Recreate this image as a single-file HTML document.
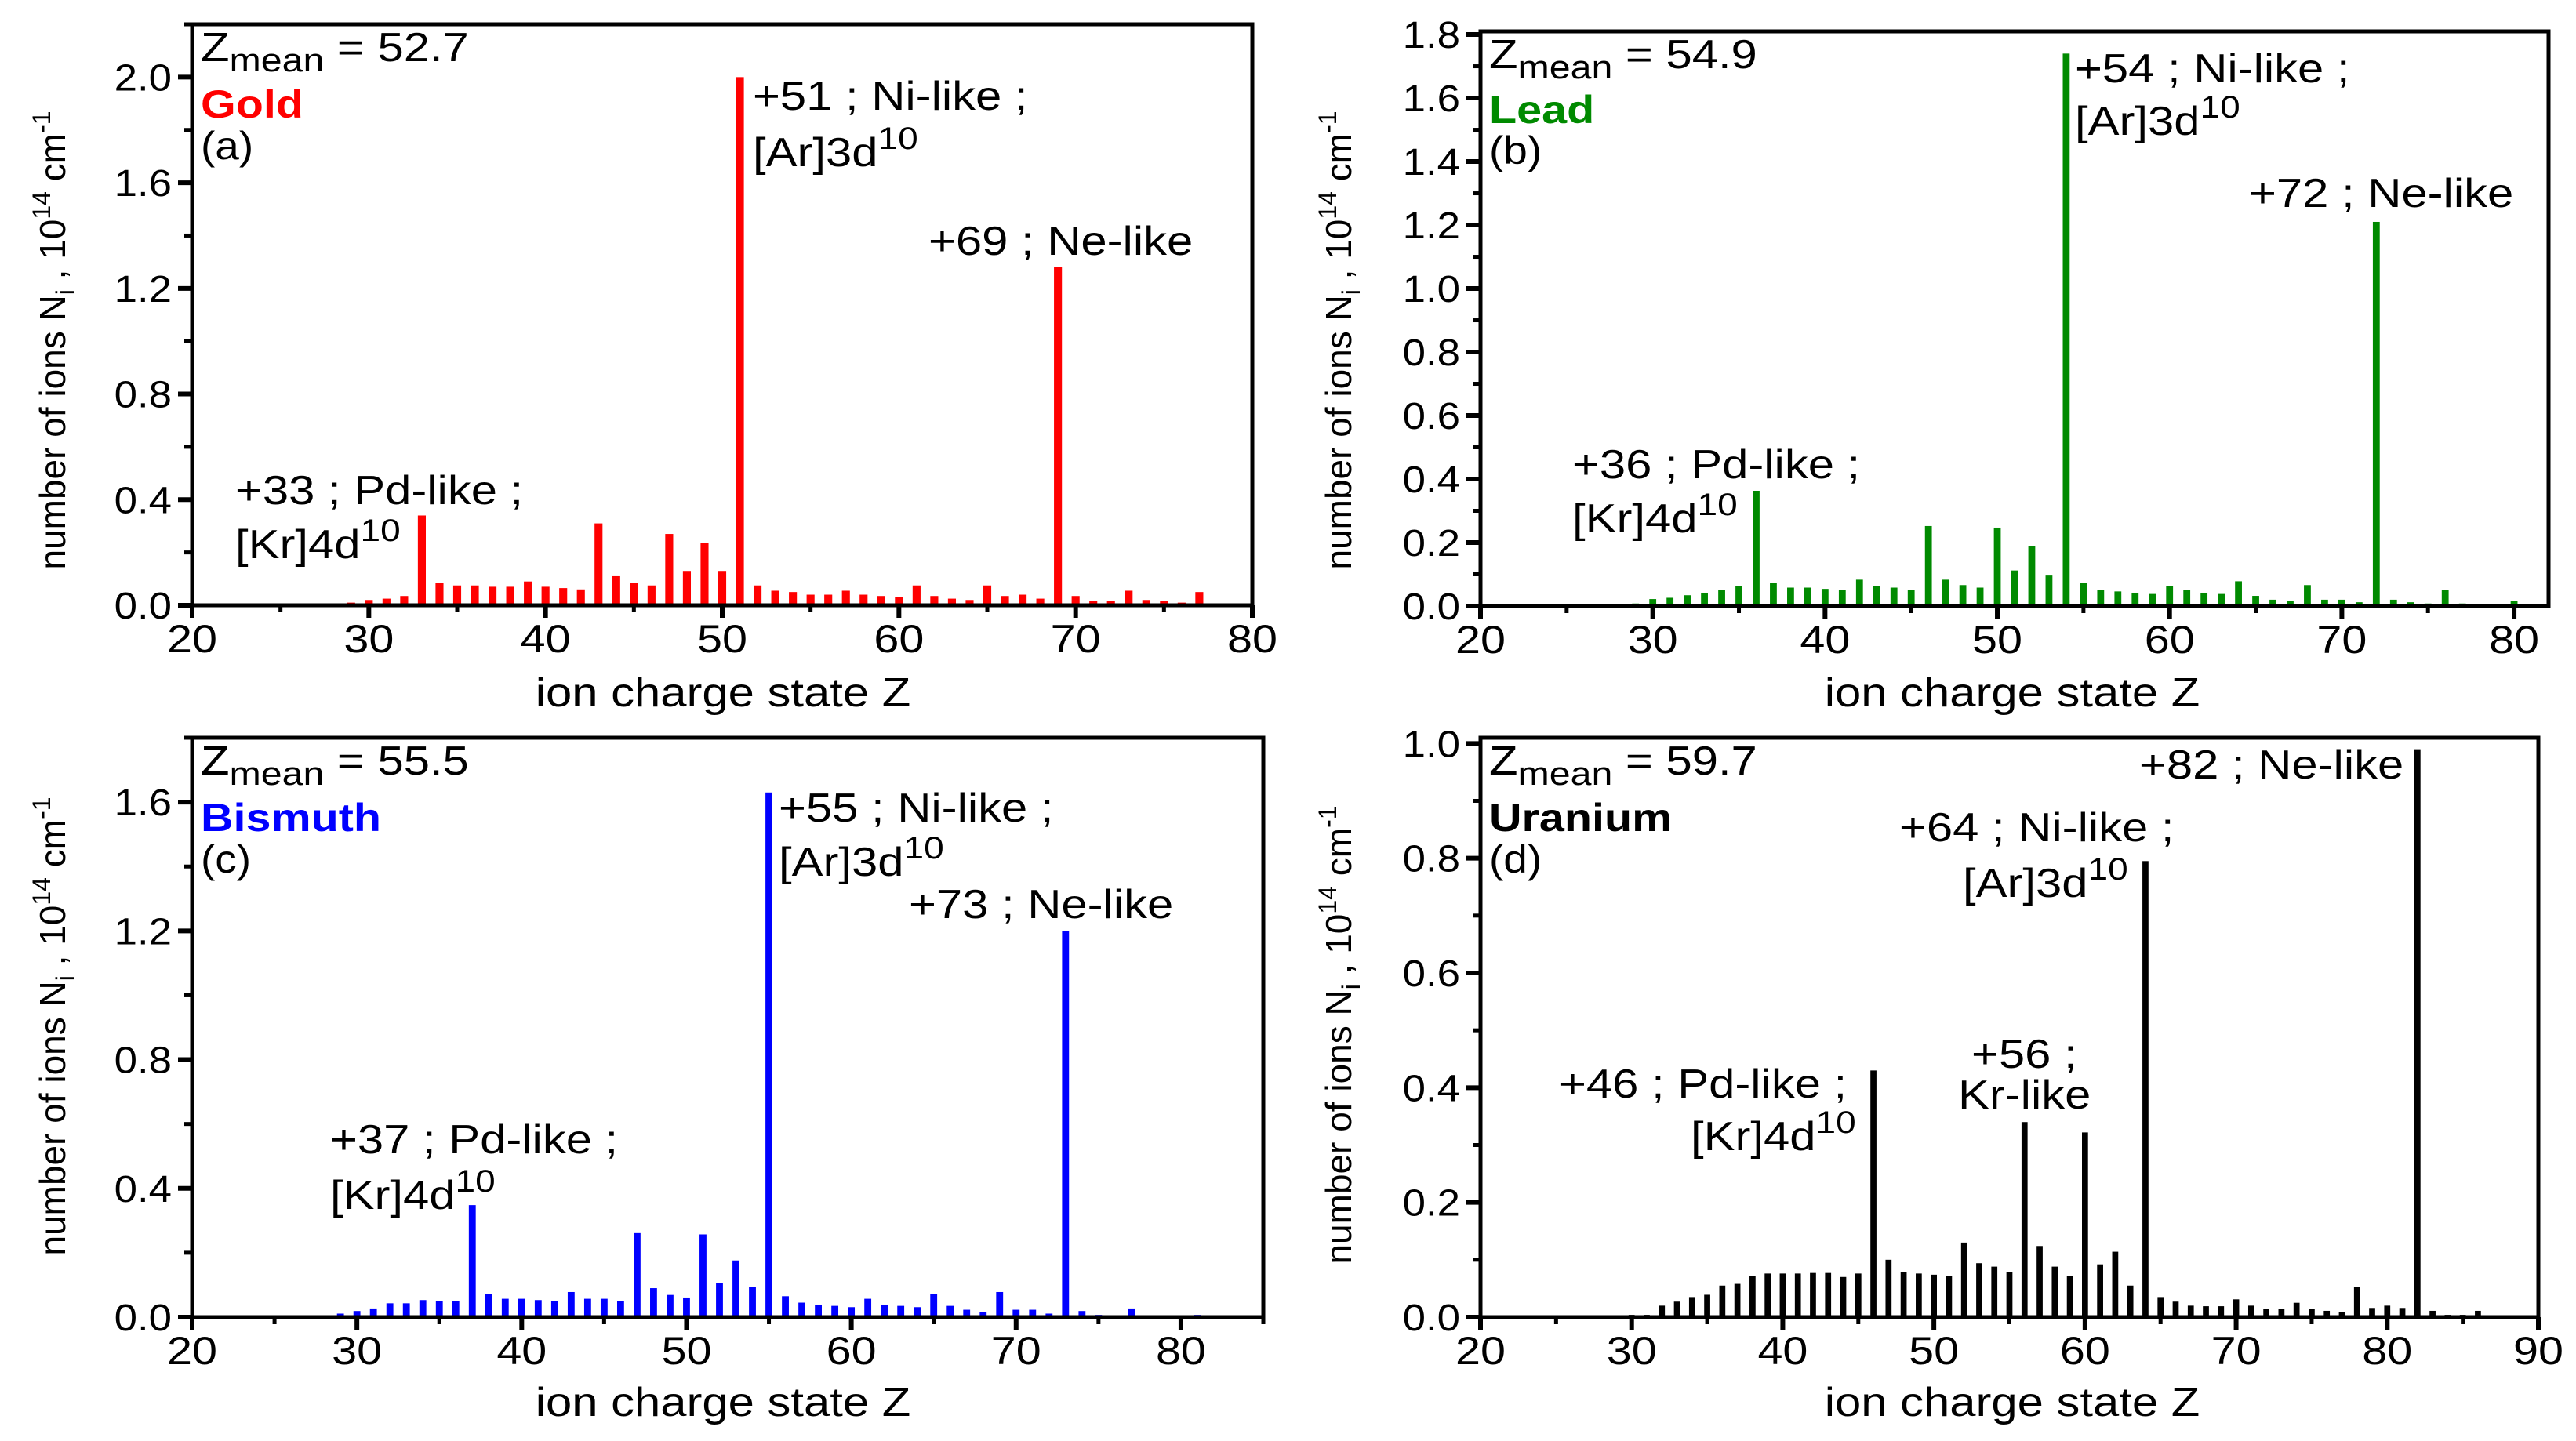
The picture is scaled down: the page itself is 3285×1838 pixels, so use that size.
<!DOCTYPE html>
<html><head><meta charset="utf-8"><style>
html,body{margin:0;padding:0;background:#fff;}
svg{display:block;font-family:"Liberation Sans",Arial,sans-serif;}
</style></head><body>
<svg id="fig" width="3285" height="1838" viewBox="0 0 3285 1838" xmlns="http://www.w3.org/2000/svg"></svg>
<script>
const goldZ=[29,30,31,32,33,34,35,36,37,38,39,40,41,42,43,44,45,46,47,48,49,50,51,52,53,54,55,56,57,58,59,60,61,62,63,64,65,66,67,68,69,70,71,72,73,74,75,76,77];
const goldN=[0.01,0.02,0.025,0.035,0.34,0.085,0.075,0.075,0.07,0.07,0.09,0.07,0.065,0.06,0.31,0.11,0.085,0.075,0.27,0.13,0.235,0.13,2.0,0.075,0.055,0.05,0.04,0.04,0.055,0.04,0.035,0.03,0.075,0.035,0.025,0.02,0.075,0.035,0.04,0.025,1.28,0.035,0.015,0.015,0.055,0.02,0.015,0.01,0.05];
const leadZ=[28,29,30,31,32,33,34,35,36,37,38,39,40,41,42,43,44,45,46,47,48,49,50,51,52,53,54,55,56,57,58,59,60,61,62,63,64,65,66,67,68,69,70,71,72,73,74,75,76,77,78,80];
const leadN=[0.003,0.008,0.022,0.026,0.034,0.042,0.05,0.064,0.363,0.074,0.058,0.058,0.054,0.05,0.083,0.064,0.058,0.05,0.252,0.083,0.066,0.058,0.247,0.112,0.188,0.096,1.74,0.074,0.05,0.046,0.042,0.038,0.064,0.05,0.042,0.038,0.078,0.032,0.02,0.016,0.066,0.02,0.02,0.012,1.21,0.02,0.012,0.008,0.05,0.008,0.004,0.016];
const bisZ=[28,29,30,31,32,33,34,35,36,37,38,39,40,41,42,43,44,45,46,47,48,49,50,51,52,53,54,55,56,57,58,59,60,61,62,63,64,65,66,67,68,69,70,71,72,73,74,75,76,77,78,81];
const bisN=[0.003,0.011,0.019,0.027,0.043,0.043,0.053,0.049,0.049,0.348,0.073,0.057,0.057,0.053,0.049,0.078,0.057,0.057,0.049,0.261,0.09,0.069,0.061,0.257,0.106,0.176,0.094,1.63,0.065,0.045,0.039,0.035,0.031,0.057,0.039,0.035,0.031,0.073,0.035,0.023,0.015,0.078,0.023,0.023,0.011,1.2,0.019,0.007,0.003,0.027,0.003,0.007];
const uraZ=[30,31,32,33,34,35,36,37,38,39,40,41,42,43,44,45,46,47,48,49,50,51,52,53,54,55,56,57,58,59,60,61,62,63,64,65,66,67,68,69,70,71,72,73,74,75,76,77,78,79,80,81,82,83,84,85,86];
const uraN=[0.004,0.004,0.02,0.027,0.035,0.039,0.055,0.058,0.072,0.076,0.076,0.076,0.077,0.077,0.07,0.076,0.43,0.1,0.078,0.076,0.074,0.072,0.13,0.094,0.088,0.078,0.34,0.124,0.088,0.072,0.322,0.092,0.114,0.055,0.795,0.035,0.027,0.02,0.019,0.019,0.031,0.02,0.015,0.015,0.025,0.015,0.011,0.009,0.053,0.016,0.02,0.016,0.99,0.011,0.004,0.004,0.011];
const xTicksA=[20,30,40,50,60,70,80];
const xTicksD=[20,30,40,50,60,70,80,90];
const yTicksA=["0.0","0.4","0.8","1.2","1.6","2.0"];
const yTicksB=["0.0","0.2","0.4","0.6","0.8","1.0","1.2","1.4","1.6","1.8"];
const yTicksC=["0.0","0.4","0.8","1.2","1.6"];
const yTicksD=["0.0","0.2","0.4","0.6","0.8","1.0"];

const NS="http://www.w3.org/2000/svg";
const svg=document.getElementById('fig');
function mk(tag,attrs,parent){const e=document.createElementNS(NS,tag);for(const k in attrs)e.setAttribute(k,attrs[k]);(parent||svg).appendChild(e);return e;}
function txt(x,y,size,sx,attrs,parent){
 const a=Object.assign({x:0,y:0,'font-size':size,fill:'#000',transform:`translate(${x},${y}) scale(${sx},1)`},attrs||{});
 return mk('text',a,parent);
}

const panels=[
 {id:'a',L:245,R:1597,T:31,B:772,xmin:20,xmax:80,ymax:2.2,xt:xTicksA,yt:yTicksA,ystep:0.4,Z:goldZ,N:goldN,color:'#ff0000',bw:0.45,
  mean:'52.7',name:'Gold',yc:434,xtc:922,xty:901,ytx:67,
  notes:[['+51 ; Ni-like ;',960,140],['[Ar]3d|10',960,212],['+69 ; Ne-like',1184,325],['+33 ; Pd-like ;',300,643],['[Kr]4d|10',300,712]]},
 {id:'b',L:1888,R:3250,T:40,B:773,xmin:20,xmax:82,ymax:1.81,xt:xTicksA,yt:yTicksB,ystep:0.2,Z:leadZ,N:leadN,color:'#008a00',bw:0.4,
  mean:'54.9',name:'Lead',yc:434,xtc:2566,xty:901,ytx:1707,
  notes:[['+54 ; Ni-like ;',2646,105],['[Ar]3d|10',2646,172],['+72 ; Ne-like',2868,264],['+36 ; Pd-like ;',2005,610],['[Kr]4d|10',2005,679]]},
 {id:'c',L:245,R:1611,T:941,B:1680,xmin:20,xmax:85,ymax:1.8,xt:xTicksA,yt:yTicksC,ystep:0.4,Z:bisZ,N:bisN,color:'#0000ff',bw:0.42,
  mean:'55.5',name:'Bismuth',yc:1309,xtc:922,xty:1806,ytx:67,
  notes:[['+55 ; Ni-like ;',993,1048],['[Ar]3d|10',993,1117],['+73 ; Ne-like',1159,1171],['+37 ; Pd-like ;',421,1471],['[Kr]4d|10',421,1542]]},
 {id:'d',L:1888,R:3237,T:941,B:1680,xmin:20,xmax:90,ymax:1.01,xt:xTicksD,yt:yTicksD,ystep:0.2,Z:uraZ,N:uraN,color:'#000000',bw:0.4,
  mean:'59.7',name:'Uranium',yc:1320,xtc:2566,xty:1806,ytx:1707,
  notes:[['+82 ; Ne-like',2728,993],['+64 ; Ni-like ;',2422,1073],['[Ar]3d|10',2503,1144],['+56 ;',2514,1362],['Kr-like',2497,1414],['+46 ; Pd-like ;',1988,1400],['[Kr]4d|10',2156,1467]]}
];

panels.forEach(p=>{
 const g=mk('g',{});
 
 
 const xs=v=>p.L+(v-p.xmin)/(p.xmax-p.xmin)*(p.R-p.L);
 const ys=v=>p.B-v/p.ymax*(p.B-p.T);
 p.Z.forEach((z,i)=>{
  const w=p.bw*(p.R-p.L)/(p.xmax-p.xmin);
  const r=mk('rect',{x:xs(z)-w/2,y:ys(p.N[i]),width:w,height:p.B-ys(p.N[i]),fill:p.color},g);
  
  
 });
 const fr=mk('rect',{x:p.L,y:p.T,width:p.R-p.L,height:p.B-p.T,fill:'none',stroke:'#000','stroke-width':5},g);
 
 
 for(let v=p.xmin;v<=p.xmax;v+=5){
  const maj=v%10===0;
  mk('line',{x1:xs(v),x2:xs(v),y1:p.B,y2:p.B+(maj?16:9),stroke:'#000','stroke-width':maj?6:5},g);
 }
 p.xt.forEach(v=>{
  const t=txt(xs(v),p.B+60,50,1.15,{'text-anchor':'middle'},g);
  t.textContent=v;
  
  
 });
 const half=p.ystep/2;
 for(let k=0;k*half<=p.ymax+1e-6;k++){
  const v=k*half,maj=k%2===0;
  mk('line',{x1:p.L,x2:p.L-(maj?18:10),y1:ys(v),y2:ys(v),stroke:'#000','stroke-width':maj?6:5},g);
 }
 p.yt.forEach(s=>{
  const t=txt(p.L-26,ys(parseFloat(s))+17,48,1.1,{'text-anchor':'end'},g);
  t.textContent=s;
  
  
 });
 const xt=txt(p.xtc,p.xty,52,1.15,{'text-anchor':'middle'},g);
 xt.textContent='ion charge state Z';
 
 
 const yt=mk('text',{x:0,y:0,'font-size':46,'text-anchor':'middle',fill:'#000',transform:`translate(${p.ytx+16},${p.yc}) rotate(-90)`},g);
 
 
 yt.innerHTML='number of ions N<tspan font-size="32" dy="11">i</tspan><tspan dy="-11"> , 10</tspan><tspan font-size="32" dy="-19">14</tspan><tspan dy="19"> cm</tspan><tspan font-size="32" dy="-19">-1</tspan>';
 const zm=txt(p.L+11,p.T+47,52,1.15,{},g);
 
 
 zm.innerHTML='Z<tspan font-size="42" dy="13">mean</tspan><tspan dy="-13"> = '+p.mean+'</tspan>';
 const nm=txt(p.L+11,p.T+(p.id==='b'?117:119),50,1.15,{'font-weight':'bold',fill:p.color},g);
 nm.textContent=p.name;
 
 
 const pl=txt(p.L+11,p.T+(p.id==='b'?169:172),50,1.1,{},g);
 pl.textContent='('+p.id+')';
 
 
 p.notes.forEach(n=>{
  const t=txt(n[1],n[2],52,1.15,{},g);
  
  
  const parts=n[0].split('|');
  if(parts.length>1){t.innerHTML=parts[0]+'<tspan font-size="40" dy="-22">'+parts[1]+'</tspan>';}
  else t.textContent=parts[0];
 });
});
</script>
</body></html>
